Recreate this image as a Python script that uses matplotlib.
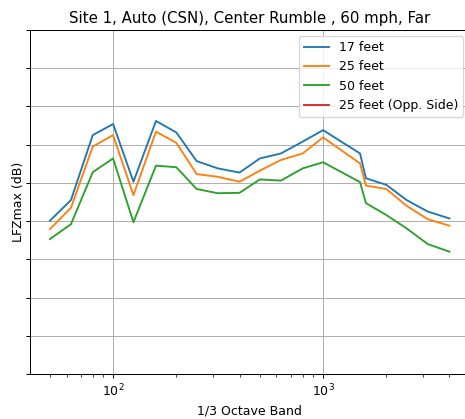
import matplotlib
matplotlib.use("Agg")
import matplotlib.pyplot as plt

freqs = [50, 63, 80, 100, 125, 160, 200, 250, 315, 400, 500, 630, 800, 1000,
         1500, 1600, 2000, 2500, 3150, 4000]
feet17 = [60.1, 65.5, 82.5, 85.4, 70.3, 86.2, 83.2, 75.7, 73.8, 72.7, 76.4, 77.7,
          80.8, 83.8, 77.7, 71.2, 69.5, 65.5, 62.5, 60.7]
feet25 = [57.9, 63.5, 79.5, 82.5, 66.8, 83.4, 80.5, 72.3, 71.6, 70.3, 73.2, 76.0,
          77.7, 81.9, 75.1, 69.3, 68.4, 64.0, 60.5, 58.8]
feet50 = [55.3, 59.2, 72.8, 76.4, 59.7, 74.5, 74.1, 68.4, 67.3, 67.4, 70.9, 70.6,
          73.8, 75.4, 70.2, 64.7, 61.6, 58.1, 54.0, 52.0]
feet25_opp = []
labels = ["17 feet", "25 feet", "50 feet", "25 feet (Opp. Side)"]
yticks = [20, 30, 40, 50, 60, 70, 80, 90, 100, 110]

DPI = 90
W, H = 465, 419
fig = plt.figure(figsize=(W / DPI, H / DPI), dpi=DPI)
ax = fig.add_axes([30 / W, (H - 374) / H, (469.4 - 30) / W, (374 - 30) / H])

ax.plot(freqs, feet17, color="#1f77b4", label=labels[0])
ax.plot(freqs, feet25, color="#ff7f0e", label=labels[1])
ax.plot(freqs, feet50, color="#2ca02c", label=labels[2])
ax.plot(freqs[:len(feet25_opp)], feet25_opp, color="#d62728", label=labels[3])

ax.set_xscale("log")
ax.set_xlim(40.2, 4977)
ax.set_ylim(20, 110)
ax.set_yticks(yticks)
ax.set_yticklabels([""] * len(yticks))
ax.grid(True, which="major", color="#b0b0b0", linewidth=0.8)
ax.set_title("Site 1, Auto (CSN), Center Rumble , 60 mph, Far", fontsize=12)
ax.set_xlabel("1/3 Octave Band", fontsize=10)
ax.set_ylabel("LFZmax (dB)", fontsize=10, labelpad=-3)
ax.legend(loc="upper right", fontsize=10)

fig.savefig("out.png", dpi=DPI)
